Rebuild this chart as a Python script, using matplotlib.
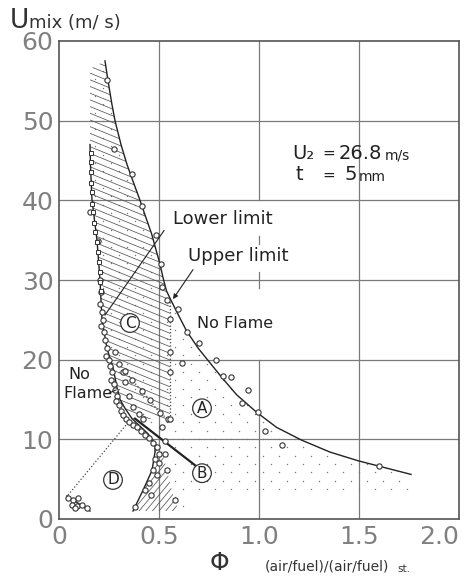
import numpy as np
import matplotlib.pyplot as plt
from matplotlib.patches import Polygon

# ---------------------------------------------------------------------------
# Blow-off limits, U2 = 26.8 m/s, t = 5 mm
# ---------------------------------------------------------------------------
# upper blow-off curve (right-hand solid line)
upper_x = [0.23, 0.245, 0.265, 0.28, 0.31, 0.34, 0.37, 0.405, 0.435, 0.463,
           0.485, 0.505, 0.52, 0.538, 0.563, 0.597, 0.638, 0.697, 0.755, 0.813,
           0.888, 0.988, 1.088, 1.213, 1.355, 1.497, 1.605, 1.76]
upper_y = [57.5, 55.0, 52.0, 50.0, 47.0, 44.5, 42.4, 40.0, 37.8, 35.8,
           33.8, 32.0, 30.3, 28.6, 27.3, 25.6, 23.6, 21.4, 19.6, 17.8,
           15.6, 13.4, 11.5, 9.9, 8.4, 7.3, 6.6, 5.6]
upper_pts_x = [0.24, 0.275, 0.364, 0.414, 0.485, 0.509, 0.513, 0.538, 0.597,
               0.638, 0.70, 0.785, 0.613, 0.818, 0.86, 0.946, 0.913, 0.994,
               1.03, 1.116, 1.602]
upper_pts_y = [55.1, 46.5, 43.3, 39.3, 35.7, 32.0, 29.1, 27.5, 26.4,
               23.5, 22.1, 20.0, 19.6, 18.0, 17.8, 16.2, 14.5, 13.4,
               11.0, 9.25, 6.6]

# lower limit curve (left-hand solid line)
lower_x = [0.155, 0.158, 0.165, 0.19, 0.205, 0.215, 0.24, 0.27, 0.29, 0.305,
           0.33, 0.365, 0.445, 0.48]
lower_y = [47, 44, 40, 35, 30, 25, 21.4, 19, 16.5, 15, 13.9, 12.6, 10.7, 9.5]
lower_sq_x = [0.158, 0.16, 0.16, 0.162, 0.163, 0.165, 0.168, 0.175, 0.18, 0.19,
              0.195, 0.2, 0.205, 0.205, 0.21]
lower_sq_y = [46.0, 44.8, 43.5, 42.2, 41.0, 39.6, 38.5, 37.2, 36.0, 34.8,
              33.5, 32.3, 31.0, 29.8, 28.6]
lower_pts_x = [0.155, 0.195, 0.205, 0.21, 0.205, 0.215, 0.22, 0.21, 0.225, 0.23,
               0.24, 0.235, 0.25, 0.255, 0.265, 0.26, 0.275, 0.28, 0.29, 0.285,
               0.30, 0.31, 0.32, 0.335, 0.35, 0.37, 0.39, 0.41, 0.43, 0.45,
               0.47, 0.49, 0.50, 0.48, 0.50, 0.47, 0.49, 0.45, 0.43, 0.46,
               0.30, 0.32, 0.28, 0.33, 0.35, 0.37, 0.42, 0.40, 0.53, 0.515,
               0.53, 0.54, 0.58, 0.38]
lower_pts_y = [38.5, 34.9, 30.0, 28.5, 27.0, 26.0, 25.0, 24.2, 23.5, 22.5,
               21.5, 20.5, 20.0, 19.2, 18.5, 17.5, 17.0, 16.2, 15.5, 14.8,
               14.3, 13.6, 13.0, 12.5, 12.2, 11.8, 11.5, 11.0, 10.6, 10.2,
               9.6, 9.0, 8.2, 7.5, 7.0, 6.2, 5.5, 4.5, 3.6, 3.0,
               19.5, 18.5, 21.0, 17.2, 15.5, 14.0, 12.5, 13.2, 9.8, 11.5,
               8.2, 6.1, 2.4, 1.5]

# diagonal row of points inside region C
diag_x = [0.33, 0.365, 0.415, 0.455, 0.505, 0.545]
diag_y = [18.6, 17.4, 16.1, 14.9, 13.25, 12.6]
# vertical limit line of region C
limit_phi = 0.555
limit_y = [12.5, 27.4]
limit_pts_y = [25.1, 20.9, 18.4, 12.6]

# lower hatched tongue
branch_x = [0.48, 0.48, 0.465, 0.42, 0.37]
branch_y = [9.5, 8.4, 6.1, 3.6, 1.0]
branch_r_x = [0.60, 0.575, 0.54, 0.515, 0.50]
branch_r_y = [1.0, 2.5, 6.1, 8.6, 9.7]

# region D
d_pts_x = [0.045, 0.07, 0.095, 0.065, 0.09, 0.115, 0.14, 0.08]
d_pts_y = [2.6, 2.4, 2.6, 1.75, 1.6, 1.75, 1.4, 1.4]
d_line_x = [0.04, 0.155]
d_line_y = [2.9, 1.0]
d_dot_x = [0.045, 0.345]
d_dot_y = [3.0, 12.1]

# line to label B
b_line_x = [0.38, 0.68]
b_line_y = [12.6, 6.75]

# bottom edge of the dotted region
dot_floor_x = [1.76, 0.63, 0.63]
dot_floor_y = [3.6, 3.6, 0.8]

ink = '#222222'
grid_c = '#7a7a7a'

fig = plt.figure(figsize=(4.65, 5.79), dpi=100)
ax = fig.add_axes([59 / 465, 60 / 579, 400 / 465, 478 / 579])
ax.set_xlim(0, 2)
ax.set_ylim(0, 60)

# grid (the 1.0 line is broken where the labels sit)
for gx in [0.5, 1.5]:
    ax.plot([gx, gx], [0, 60], color=grid_c, lw=0.9, zorder=1)
for seg in [(0, 20), (29, 31), (34.5, 35.5), (40, 60)]:
    ax.plot([1.0, 1.0], seg, color=grid_c, lw=0.9, zorder=1)
for gy in [10, 20, 30, 40, 50]:
    ax.plot([0, 2], [gy, gy], color=grid_c, lw=0.9, zorder=1)

# ---------------------------------------------------------------------------
# shaded regions
# ---------------------------------------------------------------------------
ux, uy = np.array(upper_x), np.array(upper_y)
lx, ly = np.array(lower_x), np.array(lower_y)

dot_poly = np.vstack([
    np.column_stack([ux, uy]),
    np.column_stack([dot_floor_x, dot_floor_y]),
    np.column_stack([branch_r_x, branch_r_y]),
    np.column_stack([lx[::-1], ly[::-1]]),
    [[lx[0], 56.5]],
])
dot_patch = Polygon(dot_poly, closed=True, fc='none', ec='none')
ax.add_patch(dot_patch)
# staggered stipple
sx, sy = [], []
for i, yy in enumerate(np.arange(0.6, 60, 1.05)):
    row = np.arange(0.02 + (i % 2) * 0.04, 2.0, 0.08)
    sx.extend(row)
    sy.extend([yy] * len(row))
sc = ax.scatter(sx, sy, s=1.0, color='#777777', lw=0, zorder=2)
sc.set_clip_path(dot_patch)

top = uy >= limit_y[1]
c_poly = np.vstack([
    np.column_stack([ux[top], uy[top]]),
    [[limit_phi, limit_y[1]], [limit_phi, limit_y[0]]],
    np.column_stack([lx[:12][::-1], ly[:12][::-1]]),
    [[lx[0], 56.5]],
])
c_patch = Polygon(c_poly, closed=True, fc='none', ec='none')
ax.add_patch(c_patch)
xs = np.array([0.0, 2.0])
for c in np.arange(8, 72, 0.84):
    ln, = ax.plot(xs, c - 10.25 * xs, color='#555555', lw=0.55, zorder=2)
    ln.set_clip_path(c_patch)

t_poly = np.vstack([np.column_stack([branch_x, branch_y]),
                    np.column_stack([branch_r_x, branch_r_y])])
t_patch = Polygon(t_poly, closed=True, fc='none', ec='none')
ax.add_patch(t_patch)
for c in np.arange(-20, 2, 1.0):
    ln, = ax.plot(xs, c + 30 * xs, color='#555555', lw=0.55, zorder=2)
    ln.set_clip_path(t_patch)

# ---------------------------------------------------------------------------
# curves and points
# ---------------------------------------------------------------------------
ax.plot(upper_x, upper_y, color=ink, lw=1.0, zorder=3)
ax.plot(lower_x, lower_y, color=ink, lw=1.0, zorder=3)
ax.plot(branch_x, branch_y, color=ink, lw=1.0, zorder=3)
ax.plot([limit_phi, limit_phi], limit_y, color='#444444', lw=0.9, ls=':', zorder=3)
ax.plot(diag_x, diag_y, color='#444444', lw=0.9, ls=':', zorder=3)
ax.plot(d_dot_x, d_dot_y, color='#444444', lw=0.9, ls=':', zorder=3)
ax.plot(d_line_x, d_line_y, color=ink, lw=1.0, zorder=3)
ax.plot(b_line_x, b_line_y, color=ink, lw=1.6, zorder=3)

mk = dict(ls='none', marker='o', ms=3.8, mfc='white', mec='#333333', mew=0.8, zorder=4)
ax.plot(upper_pts_x, upper_pts_y, **mk)
ax.plot(lower_pts_x, lower_pts_y, **mk)
ax.plot(diag_x, diag_y, **mk)
ax.plot([limit_phi] * len(limit_pts_y), limit_pts_y, **mk)
ax.plot(d_pts_x, d_pts_y, **mk)
ax.plot(lower_sq_x, lower_sq_y, ls='none', marker='s', ms=2.6, mfc='white',
        mec='#333333', mew=0.7, zorder=4)

# ---------------------------------------------------------------------------
# labels
# ---------------------------------------------------------------------------
for lab, (px, py) in {'A': (0.715, 13.9), 'B': (0.715, 5.75),
                      'C': (0.355, 24.6), 'D': (0.27, 4.9)}.items():
    ax.text(px, py, lab, fontsize=11, color=ink, ha='center', va='center', zorder=6,
            bbox=dict(boxstyle='circle,pad=0.12', fc='white', ec='#333333', lw=0.9))

ax.text(0.57, 37.6, 'Lower limit', fontsize=13, color=ink, va='center', zorder=6)
ax.text(0.645, 33.0, 'Upper limit', fontsize=13, color=ink, va='center', zorder=6)
ax.text(0.69, 24.5, 'No Flame', fontsize=11.5, color=ink, va='center', zorder=6)
ax.text(0.045, 18.2, 'No', fontsize=11.5, color=ink, va='center', zorder=6)
ax.text(0.02, 15.75, 'Flame', fontsize=11.5, color=ink, va='center', zorder=6)
ax.plot([0.525, 0.23], [36.2, 25.6], color=ink, lw=0.8, zorder=5)
ax.annotate('', xy=(0.57, 27.6), xytext=(0.67, 31.3),
            arrowprops=dict(arrowstyle='-|>', color=ink, lw=0.8,
                            mutation_scale=7, shrinkA=0, shrinkB=0), zorder=5)
ax.plot([0.25, 0.285], [15.8, 16.2], color=ink, lw=0.8, zorder=5)

ax.text(1.165, 45.9, 'U\u2082', fontsize=14, color=ink, va='center')
ax.text(1.315, 45.9, '=', fontsize=11, color=ink, va='center')
ax.text(1.40, 45.9, '26.8', fontsize=14, color=ink, va='center')
ax.text(1.63, 45.6, 'm/s', fontsize=10, color=ink, va='center')
ax.text(1.18, 43.2, 't', fontsize=14, color=ink, va='center')
ax.text(1.315, 43.2, '=', fontsize=11, color=ink, va='center')
ax.text(1.43, 43.2, '5', fontsize=14, color=ink, va='center')
ax.text(1.50, 42.9, 'mm', fontsize=10, color=ink, va='center')

# axes styling
for sp in ax.spines.values():
    sp.set_color('#555555')
    sp.set_linewidth(1.2)
ax.set_xticks([0, 0.5, 1.0, 1.5, 2.0])
ax.set_xticklabels(['0', '0.5', '1.0', '1.5', '2.0'])
ax.set_yticks([0, 10, 20, 30, 40, 50, 60])
ax.tick_params(length=0, labelsize=18, labelcolor='#808080', pad=4)
ax.get_xticklabels()[-1].set_ha('right')

fig.text(10 / 465, 1 - 21 / 579, 'U', fontsize=19, color='#333333', va='center')
fig.text(29 / 465, 1 - 23 / 579, 'mix (m/ s)', fontsize=13, color='#333333', va='center')
fig.text(219 / 465, 1 - 563 / 579, '\u03a6', fontsize=18, color='#333333',
         ha='center', va='center')
fig.text(265 / 465, 1 - 567 / 579, '(air/fuel)/(air/fuel)', fontsize=10,
         color='#333333', va='center')
fig.text(397 / 465, 1 - 569 / 579, 'st.', fontsize=7.5, color='#333333', va='center')

fig.savefig('out.png', dpi=100)
